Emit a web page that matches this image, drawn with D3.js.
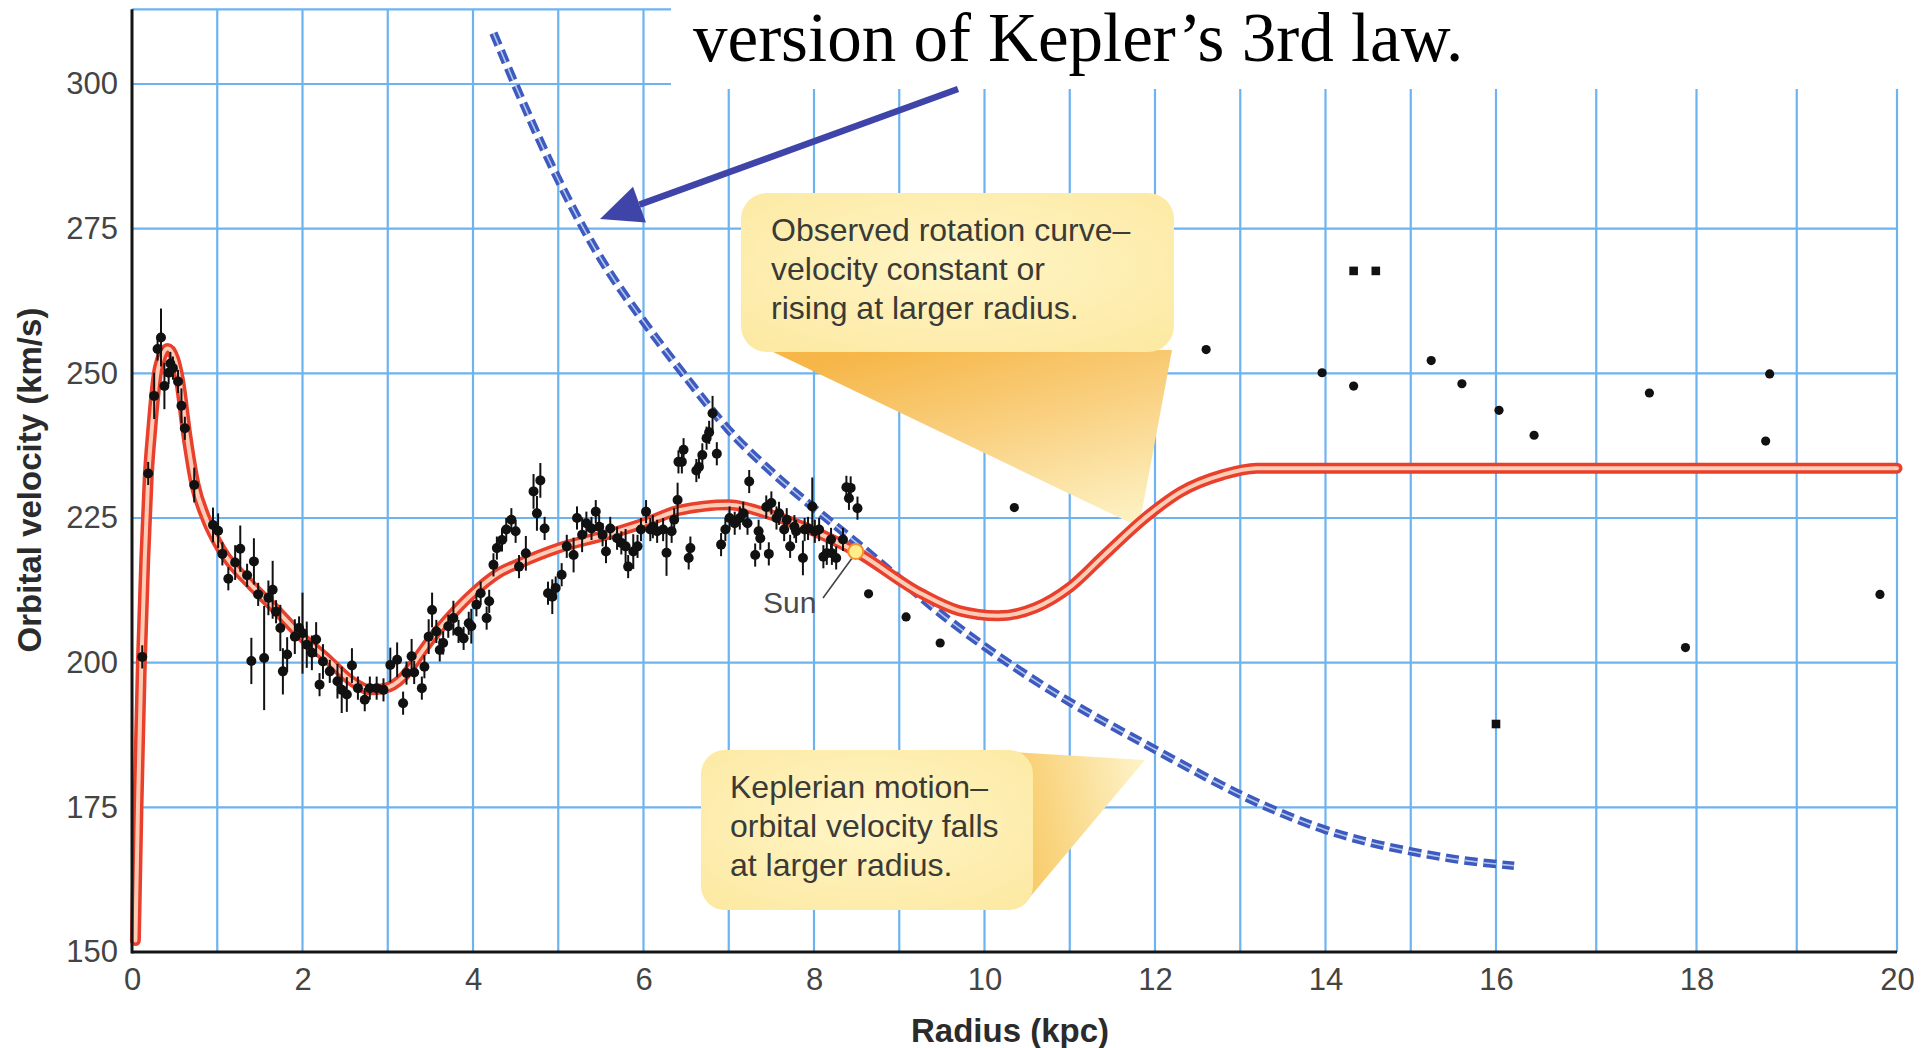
<!DOCTYPE html>
<html>
<head>
<meta charset="utf-8">
<script src="https://cdn.jsdelivr.net/npm/d3@7"></script>
<style>
  body { margin: 0; background: #fff; }
  svg { display: block; }
  .tick text { font-family: "Liberation Sans", Arial, sans-serif; fill: #444; }
</style>
</head>
<body>
<svg id="chart" width="1932" height="1048"></svg>
<script>
// axis ticks
const xTicks = [0, 2, 4, 6, 8, 10, 12, 14, 16, 18, 20];
const yTicks = [150, 175, 200, 225, 250, 275, 300];
const xGrid = d3.range(1, 21);

// observed rotation data: [radius kpc, velocity km/s, error km/s]
const obsPoints = [
  [0.12, 201, 2], [0.19, 232.7, 2], [0.26, 246.1, 4], [0.30, 254.2, 2], [0.34, 256.2, 5],
  [0.38, 247.8, 4], [0.43, 250.1, 2], [0.45, 251.7, 2], [0.48, 250.9, 2], [0.54, 248.6, 2],
  [0.58, 244.4, 3], [0.62, 240.5, 2], [0.73, 230.7, 3], [0.95, 223.8, 3], [1.01, 222.8, 3],
  [1.06, 218.8, 2], [1.13, 214.5, 2], [1.21, 217.3, 3], [1.27, 219.7, 4], [1.35, 215.1, 2],
  [1.40, 200.3, 4], [1.43, 217.5, 4], [1.48, 211.8, 2], [1.55, 200.8, 9], [1.60, 211.2, 3],
  [1.65, 212.6, 5], [1.69, 208.8, 2], [1.74, 206.0, 4], [1.77, 198.5, 4], [1.82, 201.4, 3],
  [1.91, 204.5, 3], [1.96, 206.0, 2], [2.00, 205.1, 7], [2.05, 203.1, 4], [2.11, 201.7, 3],
  [2.16, 204.0, 3], [2.20, 196.2, 2], [2.24, 200.2, 3], [2.32, 198.5, 2], [2.41, 196.8, 3],
  [2.46, 195.3, 4], [2.52, 194.5, 3], [2.58, 199.5, 3], [2.65, 195.6, 2], [2.73, 193.6, 2],
  [2.79, 195.6, 2], [2.87, 195.6, 2], [2.95, 195.3, 2], [3.03, 199.6, 3], [3.11, 200.5, 3],
  [3.18, 193.0, 2], [3.22, 198.2, 2], [3.28, 201.1, 3], [3.31, 198.3, 2], [3.40, 195.6, 2],
  [3.43, 199.3, 2], [3.48, 204.5, 3], [3.52, 209.1, 3], [3.57, 205.4, 2], [3.61, 202.2, 2],
  [3.65, 203.4, 2], [3.71, 206.3, 2], [3.77, 207.7, 3], [3.83, 205.4, 2], [3.89, 204.2, 2],
  [3.95, 206.8, 2], [3.98, 206.3, 3], [4.04, 210.0, 2], [4.09, 212.0, 2], [4.16, 207.7, 2],
  [4.19, 210.6, 2], [4.24, 216.9, 2], [4.28, 219.8, 2], [4.34, 221.2, 2], [4.39, 223.0, 2],
  [4.45, 224.7, 2], [4.50, 222.7, 2], [4.54, 216.6, 2], [4.62, 218.9, 3], [4.71, 229.6, 3],
  [4.75, 225.8, 3], [4.79, 231.5, 3], [4.84, 223.2, 2], [4.88, 212.0, 2], [4.93, 211.4, 3],
  [4.97, 212.9, 2], [5.04, 215.2, 2], [5.10, 220.1, 2], [5.18, 218.6, 3], [5.22, 225.0, 2],
  [5.28, 222.1, 3], [5.33, 224.1, 2], [5.39, 223.2, 2], [5.44, 226.1, 2], [5.48, 223.5, 2],
  [5.52, 222.1, 2], [5.56, 219.2, 2], [5.61, 223.2, 2], [5.69, 221.5, 2], [5.74, 220.7, 2],
  [5.79, 220.1, 3], [5.82, 216.6, 2], [5.88, 219.2, 3], [5.93, 220.1, 2], [5.97, 223.0, 2],
  [6.03, 226.1, 2], [6.08, 223.0, 2], [6.11, 223.5, 2], [6.16, 222.7, 2], [6.23, 223.0, 2],
  [6.27, 219.0, 4], [6.33, 222.7, 2], [6.36, 224.7, 2], [6.40, 228.1, 3], [6.41, 234.7, 2],
  [6.45, 234.7, 2], [6.47, 236.8, 2], [6.53, 218.1, 2], [6.55, 219.8, 2], [6.62, 233.2, 2],
  [6.65, 233.8, 2], [6.69, 235.9, 2], [6.74, 238.8, 2], [6.77, 239.8, 2], [6.81, 243.1, 3],
  [6.86, 236.1, 2], [6.91, 220.4, 2], [6.96, 223.0, 2], [7.01, 225.0, 2], [7.07, 224.1, 2],
  [7.13, 225.0, 2], [7.17, 225.8, 2], [7.22, 224.1, 2], [7.24, 231.3, 2], [7.31, 218.6, 2],
  [7.35, 222.7, 2], [7.37, 221.5, 2], [7.44, 226.9, 2], [7.47, 218.8, 2], [7.50, 227.6, 2],
  [7.56, 225.0, 2], [7.59, 225.8, 2], [7.65, 223.0, 2], [7.68, 224.7, 2], [7.72, 220.1, 2],
  [7.77, 223.5, 2], [7.79, 222.7, 2], [7.87, 218.1, 3], [7.89, 223.0, 2], [7.93, 223.2, 2],
  [7.98, 227.0, 5], [8.01, 222.7, 2], [8.06, 223.0, 2], [8.11, 218.3, 2], [8.15, 218.9, 2],
  [8.20, 221.3, 2], [8.21, 218.9, 2], [8.26, 218.1, 2], [8.34, 221.3, 2], [8.38, 230.3, 2],
  [8.41, 228.4, 2], [8.43, 230.2, 2], [8.51, 226.7, 2],
  [8.64, 211.9, 0], [9.08, 207.9, 0], [9.48, 203.4, 0], [10.35, 226.8, 0], [12.6, 254.1, 0],
  [13.96, 250.1, 0], [14.33, 247.8, 0], [15.24, 252.2, 0], [15.6, 248.2, 0], [16.03, 243.6, 0],
  [16.38, 239.3, 0], [17.53, 246.6, 0], [17.89, 202.6, 0], [18.73, 249.9, 0], [18.69, 238.3, 0],
  [19.83, 211.8, 0]
];
// outer points drawn as small squares
const obsSquares = [[14.33, 267.7], [14.59, 267.7], [16.0, 189.4]];

// fitted rotation curve (red)
const rotCurve = [
  [0.04, 152], [0.07, 175], [0.11, 200], [0.15, 218], [0.19, 232], [0.23, 240], [0.31, 251],
  [0.42, 254.3], [0.5, 252.5], [0.56, 248.6], [0.64, 239.6], [0.74, 230.7], [0.86, 225.2],
  [1.05, 219.5], [1.38, 213.7], [1.7, 209], [1.99, 204.5], [2.3, 200.5], [2.56, 197],
  [2.8, 195.3], [2.95, 195.5], [3.18, 197.5], [3.38, 201.5], [3.53, 204.5], [3.77, 208.6],
  [4.0, 212], [4.3, 215.5], [4.55, 217.2], [5.0, 219.8], [5.57, 222.1], [6.0, 224.1],
  [6.41, 226.3], [7.0, 227.3], [7.5, 225.5], [8.0, 222.7], [8.49, 219.2], [9.25, 212],
  [9.7, 209], [10.16, 208.1], [10.6, 209.5], [11.0, 213], [11.4, 218.5], [11.89, 225.1],
  [12.3, 229.5], [12.8, 232.5], [13.19, 233.6], [20, 233.6]
];

// Keplerian prediction (blue dashed)
const keplerCurve = [
  [4.24, 308.8], [4.6, 296.3], [5.0, 283.5], [5.5, 269.8], [6.0, 259], [6.5, 249.3],
  [7.0, 240.2], [7.5, 233.0], [8.0, 226.7], [8.5, 220.7], [9.0, 214.5], [9.5, 208.3],
  [10.0, 202.8], [10.5, 197.8], [11.0, 193.2], [11.5, 189.0], [12.0, 185.0], [12.5, 181.0],
  [13.0, 177.2], [13.5, 173.9], [14.0, 171.1], [14.5, 169.0], [15.0, 167.4], [15.5, 166.1],
  [16.18, 164.9]
];

const sunPos = [8.49, 219.2];
const titleText = 'version of Kepler\u2019s 3rd law.';
const upperNote = ['Observed rotation curve\u2013', 'velocity constant or', 'rising at larger radius.'];
const lowerNote = ['Keplerian motion\u2013', 'orbital velocity falls', 'at larger radius.'];

const svg = d3.select('#chart');
const x = d3.scaleLinear().domain([0, 16, 20]).range([132, 1496, 1897]);
const y = d3.scaleLinear().domain([150, 300]).range([952, 84]);
const yTop = 312.9;

// gradients
const defs = svg.append('defs');
let g1 = defs.append('radialGradient').attr('id', 'boxFill').attr('cx', '50%').attr('cy', '45%').attr('r', '70%');
g1.append('stop').attr('offset', '0%').attr('stop-color', '#fff5c6');
g1.append('stop').attr('offset', '100%').attr('stop-color', '#fce9a2');

let g2 = defs.append('linearGradient').attr('id', 'wedgeUp')
  .attr('x1', '0.25').attr('y1', '0').attr('x2', '0.85').attr('y2', '1');
g2.append('stop').attr('offset', '0%').attr('stop-color', '#f6b648');
g2.append('stop').attr('offset', '45%').attr('stop-color', '#f9cf7e');
g2.append('stop').attr('offset', '100%').attr('stop-color', '#fdf2c4');

let g3 = defs.append('linearGradient').attr('id', 'wedgeLow')
  .attr('x1', '0').attr('y1', '0.5').attr('x2', '1').attr('y2', '0.3');
g3.append('stop').attr('offset', '0%').attr('stop-color', '#f8c862');
g3.append('stop').attr('offset', '100%').attr('stop-color', '#fdf2c6');

// grid
const grid = svg.append('g').attr('stroke', '#6db3f0').attr('stroke-width', 2.2);
grid.selectAll('.gv').data(xGrid).enter().append('line')
  .attr('x1', d => x(d)).attr('x2', d => x(d))
  .attr('y1', y(150)).attr('y2', y(yTop));
grid.selectAll('.gh').data(yTicks.slice(1).concat([yTop])).enter().append('line')
  .attr('x1', x(0)).attr('x2', x(20))
  .attr('y1', d => y(d)).attr('y2', d => y(d));

// white band behind the title
svg.append('rect').attr('x', 671).attr('y', 0).attr('width', 1261).attr('height', 89).attr('fill', '#fff');

// callouts
svg.append('path').attr('d', 'M769,350 L1172,350 L1139,527 Z').attr('fill', 'url(#wedgeUp)');
svg.append('rect').attr('x', 741).attr('y', 193).attr('width', 433).attr('height', 159)
  .attr('rx', 26).attr('fill', 'url(#boxFill)');
svg.append('path').attr('d', 'M1010,752 L1145,760 L1030,897 Z').attr('fill', 'url(#wedgeLow)');
svg.append('rect').attr('x', 701).attr('y', 750).attr('width', 332).attr('height', 160)
  .attr('rx', 24).attr('fill', 'url(#boxFill)');

function note(lines, x0, y0) {
  svg.append('g').selectAll('text').data(lines).enter().append('text')
    .attr('x', x0).attr('y', (d, i) => y0 + i * 39)
    .attr('font-family', '"Liberation Sans", Arial, sans-serif')
    .attr('font-size', 32).attr('fill', '#3a3a36')
    .text(d => d);
}
note(upperNote, 771, 241);
note(lowerNote, 730, 798);

// curves
const line = d3.line().x(d => x(d[0])).y(d => y(d[1])).curve(d3.curveMonotoneX);

svg.append('path').datum(keplerCurve).attr('d', line)
  .attr('fill', 'none').attr('stroke', '#3d5bbf').attr('stroke-width', 8.5)
  .attr('stroke-dasharray', '13 6');
svg.append('path').datum(keplerCurve).attr('d', line)
  .attr('fill', 'none').attr('stroke', '#b8c6ee').attr('stroke-width', 1.6)
  .attr('stroke-dasharray', '13 6');

svg.append('path').datum(rotCurve).attr('d', line)
  .attr('fill', 'none').attr('stroke', '#e8402c').attr('stroke-width', 11)
  .attr('stroke-linecap', 'round').attr('stroke-linejoin', 'round');
svg.append('path').datum(rotCurve).attr('d', line)
  .attr('fill', 'none').attr('stroke', '#ffcdb6').attr('stroke-width', 4)
  .attr('stroke-linecap', 'round');

// data points
const pts = svg.append('g');
pts.selectAll('.err').data(obsPoints.filter(d => d[2] > 0)).enter().append('line')
  .attr('x1', d => x(d[0])).attr('x2', d => x(d[0]))
  .attr('y1', d => y(d[1] - d[2])).attr('y2', d => y(d[1] + d[2]))
  .attr('stroke', '#111').attr('stroke-width', 2);
pts.selectAll('.dot').data(obsPoints).enter().append('circle')
  .attr('cx', d => x(d[0])).attr('cy', d => y(d[1]))
  .attr('r', d => d[2] > 0 ? 5 : 4.6).attr('fill', '#111');
pts.selectAll('.sq').data(obsSquares).enter().append('rect')
  .attr('x', d => x(d[0]) - 4.3).attr('y', d => y(d[1]) - 4.3)
  .attr('width', 8.6).attr('height', 8.6).attr('fill', '#111');

// sun
svg.append('line').attr('x1', 823).attr('y1', 598).attr('x2', x(sunPos[0]) - 4).attr('y2', y(sunPos[1]) + 7)
  .attr('stroke', '#444').attr('stroke-width', 1.6);
svg.append('circle').attr('cx', x(sunPos[0])).attr('cy', y(sunPos[1])).attr('r', 7.5)
  .attr('fill', '#ffec8a').attr('stroke', '#f2902e').attr('stroke-width', 2);
svg.append('text').attr('x', 763).attr('y', 613)
  .attr('font-family', '"Liberation Sans", Arial, sans-serif').attr('font-size', 30)
  .attr('fill', '#4a4a4a').text('Sun');

// axes
const xAxis = svg.append('g').attr('transform', `translate(0,${y(150)})`)
  .call(d3.axisBottom(x).tickValues(xTicks).tickSize(0).tickPadding(16));
xAxis.select('.domain').remove();
xAxis.selectAll('text').attr('font-size', 31);

const yAxis = svg.append('g').attr('transform', `translate(${x(0)},0)`)
  .call(d3.axisLeft(y).tickValues(yTicks).tickSize(0).tickPadding(14));
yAxis.select('.domain').remove();
yAxis.selectAll('text').attr('font-size', 31);

svg.append('line').attr('x1', x(0)).attr('x2', x(20)).attr('y1', y(150)).attr('y2', y(150))
  .attr('stroke', '#151515').attr('stroke-width', 3);
svg.append('line').attr('x1', x(0)).attr('x2', x(0)).attr('y1', y(150) + 1.5).attr('y2', y(yTop))
  .attr('stroke', '#151515').attr('stroke-width', 3);

svg.append('text').attr('x', 1010).attr('y', 1042).attr('text-anchor', 'middle')
  .attr('font-family', '"Liberation Sans", Arial, sans-serif').attr('font-weight', 'bold')
  .attr('font-size', 33).attr('fill', '#2b2b2b').text('Radius (kpc)');
svg.append('text').attr('transform', 'translate(41,480) rotate(-90)').attr('text-anchor', 'middle')
  .attr('font-family', '"Liberation Sans", Arial, sans-serif').attr('font-weight', 'bold')
  .attr('font-size', 33).attr('fill', '#2b2b2b').text('Orbital velocity (km/s)');

// title fragment and arrow
svg.append('text').attr('x', 693).attr('y', 61)
  .attr('font-family', '"Liberation Serif", "Times New Roman", serif')
  .attr('font-size', 69).attr('fill', '#000').text(titleText);

const aStart = [958, 89], aTip = [600, 219];
const dx = aStart[0] - aTip[0], dy = aStart[1] - aTip[1];
const len = Math.hypot(dx, dy), ux = dx / len, uy = dy / len;
const back = [aTip[0] + ux * 42, aTip[1] + uy * 42];
svg.append('line').attr('x1', aStart[0]).attr('y1', aStart[1]).attr('x2', back[0]).attr('y2', back[1])
  .attr('stroke', '#3f45a8').attr('stroke-width', 6.5);
svg.append('path')
  .attr('d', `M${aTip[0]},${aTip[1]} L${back[0] - uy * 19},${back[1] + ux * 19} L${back[0] + uy * 19},${back[1] - ux * 19} Z`)
  .attr('fill', '#3f45a8');
</script>
</body>
</html>
